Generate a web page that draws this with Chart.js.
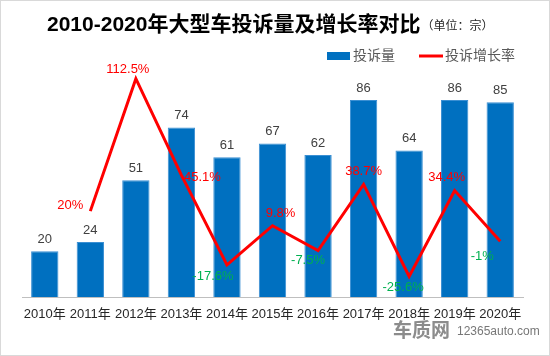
<!DOCTYPE html>
<html>
<head>
<meta charset="utf-8">
<script src="https://cdn.jsdelivr.net/npm/chart.js@4.4.1/dist/chart.umd.min.js"></script>
<style>
  html, body { margin: 0; padding: 0; background: #fff; }
  #wrap { position: relative; width: 550px; height: 356px; box-sizing: border-box; border: 1px solid #d9d9d9; }
  canvas { display: block; }
</style>
</head>
<body>
<div id="wrap"><canvas id="c" width="548" height="354"></canvas></div>
<script>
const categories = ['2010年','2011年','2012年','2013年','2014年','2015年','2016年','2017年','2018年','2019年','2020年'];
const complaints = [20, 24, 51, 74, 61, 67, 62, 86, 64, 86, 85];
const growthRate = [null, 20, 112.5, 45.1, -17.6, 9.8, -7.5, 38.7, -25.6, 34.4, -1];
const growthLabels = ['', '20%', '112.5%', '45.1%', '-17.6%', '9.8%', '-7.5%', '38.7%', '-25.6%', '34.4%', '-1%'];

const titleText = '2010-2020年大型车投诉量及增长率对比';
const unitText = '（单位：宗）';
const legendBar = '投诉量';
const legendLine = '投诉增长率';

// label offsets (dx, dy) relative to each line point, in px
const rateLabelOffsets = [[0,0],[-20,-6],[-8,-9],[21,2],[-14,11],[8,-12],[-10,10],[0,-13],[-6,11],[-8,-13],[-18,15]];

const CJK = '"Liberation Sans", "Noto Sans CJK SC", sans-serif';

const decor = {
  id: 'decor',
  afterDatasetsDraw(chart) {
    const ctx = chart.ctx;
    ctx.save();
    const barMeta = chart.getDatasetMeta(0);
    ctx.font = '13px ' + CJK;
    ctx.fillStyle = '#404040';
    ctx.textAlign = 'center';
    ctx.textBaseline = 'middle';
    barMeta.data.forEach((el, i) => {
      ctx.fillText(String(complaints[i]), el.x, el.y - 12);
    });
    const lineMeta = chart.getDatasetMeta(1);
    lineMeta.data.forEach((el, i) => {
      if (growthRate[i] === null) return;
      const o = rateLabelOffsets[i];
      ctx.fillStyle = growthRate[i] >= 0 ? '#FF0000' : '#00B050';
      ctx.fillText(growthLabels[i], el.x + o[0], el.y + o[1]);
    });
    ctx.restore();
  },
  afterDraw(chart) {
    const ctx = chart.ctx;
    ctx.save();
    ctx.textBaseline = 'middle';
    ctx.textAlign = 'left';
    ctx.fillStyle = '#000';
    ctx.font = 'bold 21px ' + CJK;
    ctx.fillText(titleText, 46, 24);
    const tw = ctx.measureText(titleText).width;
    ctx.font = '12px ' + CJK;
    ctx.fillStyle = '#262626';
    ctx.fillText(unitText, 46 + tw + 1, 26);
    ctx.fillStyle = '#0070C0';
    ctx.fillRect(326, 51, 23, 8);
    ctx.font = '14px ' + CJK;
    ctx.fillStyle = '#595959';
    ctx.fillText(legendBar, 352, 55);
    ctx.strokeStyle = '#FF0000';
    ctx.lineWidth = 3;
    ctx.beginPath();
    ctx.moveTo(418, 55);
    ctx.lineTo(442, 55);
    ctx.stroke();
    ctx.fillText(legendLine, 444, 55);
    ctx.fillStyle = '#8c8c8c';
    ctx.font = 'bold 19px "Noto Sans CJK SC", sans-serif';
    ctx.fillText('车质网', 392, 329);
    ctx.font = '12px "Liberation Sans", sans-serif';
    ctx.fillStyle = '#777';
    ctx.fillText('12365auto.com', 456, 331);
    ctx.restore();
  }
};

new Chart(document.getElementById('c'), {
  data: {
    labels: categories,
    datasets: [
      {
        type: 'bar',
        label: legendBar,
        data: complaints,
        yAxisID: 'y',
        backgroundColor: '#0070C0',
        borderColor: '#3A8FD3',
        borderWidth: 1,
        barPercentage: 0.6,
        categoryPercentage: 1.0,
        order: 2
      },
      {
        type: 'line',
        label: legendLine,
        data: growthRate,
        yAxisID: 'y2',
        borderColor: '#FF0000',
        borderWidth: 3,
        pointRadius: 0,
        tension: 0,
        fill: false,
        spanGaps: false,
        order: 1
      }
    ]
  },
  options: {
    responsive: false,
    animation: false,
    layout: { padding: { left: 21, right: 26, top: 67, bottom: 0 } },
    plugins: { legend: { display: false }, tooltip: { enabled: false } },
    scales: {
      x: {
        grid: { display: false, drawTicks: false },
        border: { display: true, color: '#bfbfbf', width: 1 },
        ticks: { color: '#262626', font: { size: 13, family: CJK }, padding: 10, maxRotation: 0, autoSkip: false },
        afterFit(scale) { scale.height = 58; }
      },
      y: { display: false, min: 0, max: 100 },
      y2: { display: false, min: -40, max: 120, position: 'right' }
    }
  },
  plugins: [decor]
});
</script>
</body>
</html>
